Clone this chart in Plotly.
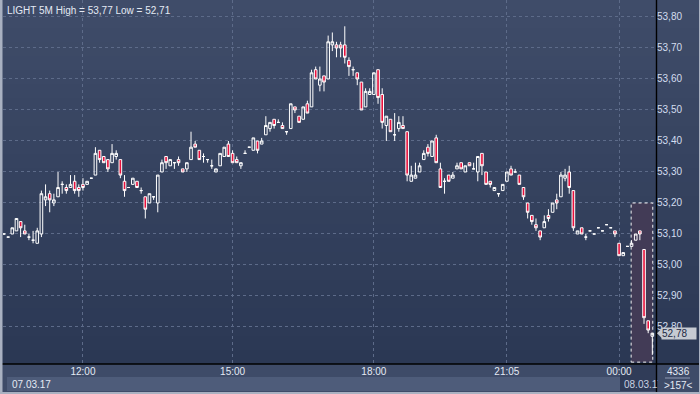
import plotly.graph_objects as go

# ---------------- data (5-minute bars) ----------------
open_ = [53.10, 53.09, 53.10, 53.11, 53.14, 53.11, 53.09, 53.08, 53.07, 53.10,
         53.21, 53.23, 53.20, 53.22, 53.26, 53.25, 53.25, 53.27, 53.25, 53.26,
         53.26, 53.28, 53.29, 53.37, 53.35, 53.34, 53.33, 53.35, 53.34, 53.27,
         53.25, 53.26, 53.27, 53.24, 53.22, 53.20, 53.22, 53.20, 53.30, 53.35,
         53.32, 53.33, 53.34, 53.31, 53.31, 53.34, 53.39, 53.37, 53.35, 53.34,
         53.32, 53.30, 53.32, 53.35, 53.39, 53.36, 53.34, 53.32, 53.36, 53.38,
         53.37, 53.40, 53.39, 53.42, 53.44, 53.47, 53.46, 53.45, 53.43, 53.44,
         53.51, 53.48, 53.47, 53.52, 53.51, 53.63, 53.58, 53.61, 53.60, 53.71,
         53.71, 53.71, 53.71, 53.66, 53.63, 53.62, 53.59, 53.51, 53.55, 53.55,
         53.63, 53.55, 53.45, 53.47, 53.42, 53.44, 53.45, 53.43, 53.27, 53.28,
         53.30, 53.34, 53.38, 53.35, 53.41, 53.31, 53.27, 53.29, 53.28, 53.31,
         53.33, 53.30, 53.33, 53.31, 53.30, 53.36, 53.30, 53.27, 53.24, 53.23,
         53.24, 53.27, 53.31, 53.30, 53.29, 53.25, 53.20, 53.16, 53.13, 53.11,
         53.12, 53.16, 53.17, 53.21, 53.22, 53.28, 53.30, 53.24, 53.10, 53.12,
         53.09, 53.11, 53.10, 53.12, 53.11, 53.13, 53.12, 53.11, 53.07, 53.03,
         53.06, 53.06, 53.08, 53.11, 53.05, 52.82, 52.77]

high = [53.10, 53.09, 53.12, 53.15, 53.14, 53.13, 53.10, 53.11, 53.12, 53.24,
        53.26, 53.24, 53.23, 53.30, 53.27, 53.26, 53.29, 53.29, 53.26, 53.28,
        53.27, 53.28, 53.38, 53.37, 53.35, 53.34, 53.39, 53.37, 53.34, 53.29,
        53.25, 53.28, 53.27, 53.25, 53.22, 53.23, 53.22, 53.29, 53.34, 53.35,
        53.34, 53.33, 53.35, 53.31, 53.33, 53.43, 53.40, 53.37, 53.36, 53.34,
        53.34, 53.31, 53.36, 53.38, 53.40, 53.37, 53.35, 53.33, 53.37, 53.38,
        53.41, 53.40, 53.41, 53.48, 53.46, 53.47, 53.47, 53.46, 53.43, 53.52,
        53.51, 53.48, 53.51, 53.53, 53.63, 53.64, 53.64, 53.61, 53.74, 53.75,
        53.72, 53.72, 53.77, 53.67, 53.64, 53.62, 53.59, 53.57, 53.57, 53.62,
        53.63, 53.57, 53.48, 53.47, 53.49, 53.48, 53.48, 53.43, 53.32, 53.33,
        53.33, 53.37, 53.39, 53.40, 53.42, 53.33, 53.28, 53.29, 53.30, 53.33,
        53.33, 53.32, 53.33, 53.33, 53.35, 53.36, 53.30, 53.27, 53.25, 53.23,
        53.26, 53.30, 53.32, 53.31, 53.29, 53.25, 53.20, 53.16, 53.15, 53.11,
        53.16, 53.18, 53.20, 53.23, 53.30, 53.31, 53.32, 53.24, 53.11, 53.12,
        53.10, 53.11, 53.10, 53.12, 53.11, 53.13, 53.12, 53.11, 53.07, 53.04,
        53.06, 53.08, 53.10, 53.11, 53.05, 52.82, 52.78]

low = [53.10, 53.09, 53.10, 53.11, 53.09, 53.10, 53.08, 53.07, 53.07, 53.09,
       53.19, 53.17, 53.19, 53.22, 53.23, 53.23, 53.25, 53.23, 53.22, 53.24,
       53.26, 53.28, 53.29, 53.33, 53.33, 53.30, 53.33, 53.34, 53.28, 53.22,
       53.25, 53.26, 53.25, 53.23, 53.15, 53.20, 53.21, 53.17, 53.30, 53.31,
       53.32, 53.31, 53.32, 53.30, 53.30, 53.34, 53.38, 53.34, 53.33, 53.33,
       53.31, 53.30, 53.32, 53.35, 53.35, 53.33, 53.33, 53.31, 53.36, 53.38,
       53.37, 53.36, 53.39, 53.42, 53.43, 53.44, 53.46, 53.44, 53.42, 53.44,
       53.49, 53.46, 53.47, 53.49, 53.51, 53.60, 53.56, 53.56, 53.60, 53.69,
       53.67, 53.67, 53.65, 53.61, 53.61, 53.58, 53.50, 53.51, 53.55, 53.55,
       53.52, 53.44, 53.40, 53.43, 53.40, 53.43, 53.44, 53.27, 53.27, 53.28,
       53.30, 53.34, 53.35, 53.35, 53.33, 53.25, 53.23, 53.27, 53.28, 53.31,
       53.31, 53.30, 53.32, 53.31, 53.27, 53.29, 53.26, 53.25, 53.24, 53.22,
       53.24, 53.27, 53.29, 53.30, 53.26, 53.21, 53.15, 53.13, 53.11, 53.08,
       53.12, 53.14, 53.17, 53.18, 53.22, 53.27, 53.23, 53.11, 53.10, 53.10,
       53.08, 53.11, 53.10, 53.12, 53.11, 53.13, 53.12, 53.09, 53.03, 53.03,
       53.06, 53.06, 53.08, 53.08, 52.81, 52.78, 52.71]

close = [53.10, 53.09, 53.12, 53.15, 53.12, 53.10, 53.09, 53.08, 53.11, 53.23,
         53.22, 53.21, 53.21, 53.25, 53.26, 53.24, 53.26, 53.24, 53.24, 53.25,
         53.27, 53.28, 53.36, 53.34, 53.33, 53.31, 53.36, 53.36, 53.29, 53.24,
         53.25, 53.28, 53.25, 53.24, 53.18, 53.23, 53.22, 53.29, 53.33, 53.33,
         53.34, 53.33, 53.33, 53.30, 53.33, 53.38, 53.38, 53.34, 53.35, 53.34,
         53.32, 53.31, 53.36, 53.38, 53.35, 53.33, 53.33, 53.33, 53.36, 53.38,
         53.41, 53.37, 53.40, 53.45, 53.46, 53.45, 53.46, 53.44, 53.43, 53.52,
         53.50, 53.46, 53.51, 53.49, 53.62, 53.60, 53.60, 53.59, 53.72, 53.72,
         53.70, 53.70, 53.67, 53.64, 53.63, 53.60, 53.50, 53.56, 53.56, 53.62,
         53.54, 53.46, 53.48, 53.43, 53.42, 53.46, 53.44, 53.29, 53.29, 53.29,
         53.32, 53.36, 53.36, 53.40, 53.33, 53.25, 53.27, 53.27, 53.29, 53.32,
         53.31, 53.32, 53.32, 53.31, 53.35, 53.32, 53.26, 53.26, 53.25, 53.23,
         53.26, 53.30, 53.29, 53.30, 53.26, 53.22, 53.17, 53.14, 53.12, 53.09,
         53.14, 53.15, 53.20, 53.20, 53.29, 53.29, 53.25, 53.12, 53.11, 53.10,
         53.09, 53.11, 53.10, 53.12, 53.11, 53.13, 53.12, 53.10, 53.03, 53.04,
         53.06, 53.07, 53.10, 53.10, 52.83, 52.79, 52.78]

bar_index = list(range(len(open_)))
time_tick_index = [19, 55, 89, 121, 148]
time_tick_labels = ["12:00", "15:00", "18:00", "21:05", "00:00"]
price_ticks = [52.80, 52.90, 53.00, 53.10, 53.20, 53.30, 53.40, 53.50, 53.60, 53.70, 53.80]
symbol = "LIGHT"
timeframe = "5M"
date_start = "07.03.17"
date_end = "08.03.17"
volume_text = "4336"
selection_first, selection_last = 151, 156
selection_top = 53.20

# ---------------- geometry / style ----------------
W, H = 700, 394
ML, MR, MT, MB = 3, 44, 0, 30
PW, PH = W - ML - MR, H - MT - MB
x_range = [-0.24, 156.88]
y_range = [52.6806, 53.8548]


def px(x):
    return (x - ML) / PW


def py(y):
    return (H - MB - y) / PH


def fmt(v):
    return f"{v:.2f}".replace(".", ",")


FONT = "Liberation Sans, Arial, sans-serif"
TXT = "#e4eaf4"
shapes = []

# background gradient bands (plot + right panel)
top_c = (63, 76, 105)
bot_c = (43, 56, 84)
n_bands = 26
for i in range(n_bands):
    t = i / (n_bands - 1)
    c = tuple(round(top_c[k] + (bot_c[k] - top_c[k]) * t) for k in range(3))
    y0 = PH * i / n_bands
    y1 = PH * (i + 1) / n_bands
    shapes.append(dict(type="rect", xref="paper", yref="paper", layer="below",
                       x0=px(0), x1=px(W), y0=py(y0), y1=py(y1 + 0.5),
                       line=dict(width=0), fillcolor="rgb(%d,%d,%d)" % c))

# bottom axis area
shapes += [
    dict(type="rect", xref="paper", yref="paper", layer="below", x0=px(0), x1=px(W),
         y0=py(H), y1=py(H - MB), line=dict(width=0), fillcolor="#3e4b68"),
    dict(type="rect", xref="paper", yref="paper", layer="below", x0=px(7), x1=px(620),
         y0=py(391), y1=py(377), line=dict(width=0), fillcolor="#4e5c7a"),
    dict(type="rect", xref="paper", yref="paper", layer="below", x0=px(620), x1=px(656),
         y0=py(391), y1=py(365), line=dict(width=0), fillcolor="#303c58"),
    dict(type="line", xref="paper", yref="paper", layer="above", x0=px(665), x1=px(690),
         y0=py(378), y1=py(378), line=dict(width=1, color="#8d99b3")),
]

# selection highlight
shapes.append(dict(type="rect", xref="x", yref="y", layer="between",
                   x0=selection_first - 0.1, x1=selection_last + 0.1,
                   y0=y_range[0] + 0.006, y1=selection_top,
                   line=dict(width=1, color="#f0f0f0", dash="dot"),
                   fillcolor="#423b56"))

# frame lines
shapes += [
    dict(type="line", xref="paper", yref="paper", layer="above", x0=px(0), x1=px(W),
         y0=py(364), y1=py(364), line=dict(width=1.4, color="#000000")),
    dict(type="line", xref="paper", yref="paper", layer="above", x0=px(656.5), x1=px(656.5),
         y0=py(0), y1=py(H), line=dict(width=1.4, color="#000000")),
    dict(type="rect", xref="paper", yref="paper", layer="above", x0=px(0), x1=px(2.5),
         y0=py(H), y1=py(0), line=dict(width=0), fillcolor="#a9b1c1"),
    dict(type="rect", xref="paper", yref="paper", layer="above", x0=px(0), x1=px(W),
         y0=py(H), y1=py(392), line=dict(width=0), fillcolor="#a9b1c1"),
    dict(type="rect", xref="paper", yref="paper", layer="above", x0=px(699), x1=px(W),
         y0=py(H), y1=py(0), line=dict(width=0), fillcolor="#a9b1c1"),
]

# last-price marker arrow
last = close[-1]
last_y_px = MT + (y_range[1] - last) / (y_range[1] - y_range[0]) * PH
shapes.append(dict(type="path", xref="paper", yref="paper", layer="above",
                   path="M %f,%f L %f,%f L %f,%f Z" % (
                       px(657), py(last_y_px), px(662), py(last_y_px - 5),
                       px(662), py(last_y_px + 5)),
                   line=dict(width=0), fillcolor="#c6cad2"))

fig = go.Figure()
fig.add_trace(go.Candlestick(
    x=bar_index, open=open_, high=high, low=low, close=close,
    increasing=dict(line=dict(color="#ffffff", width=1), fillcolor="rgba(0,0,0,0)"),
    decreasing=dict(line=dict(color="#ffffff", width=1), fillcolor="#e8103c"),
    whiskerwidth=0, showlegend=False, hoverinfo="skip",
))

annotations = [
    dict(text=f"{symbol} {timeframe} High = {fmt(max(high))} Low = {fmt(min(low))}",
         xref="paper", yref="paper", x=px(5), y=py(10), xanchor="left", yanchor="middle",
         showarrow=False, font=dict(family=FONT, size=10, color=TXT)),
    dict(text=date_start, xref="paper", yref="paper", x=px(10), y=py(384),
         xanchor="left", yanchor="middle", showarrow=False,
         font=dict(family=FONT, size=10, color=TXT)),
    dict(text=date_end, xref="paper", yref="paper", x=px(622), y=py(384),
         xanchor="left", yanchor="middle", showarrow=False, width=34, align="left",
         font=dict(family=FONT, size=10, color="#c9d2e2")),
    dict(text=volume_text, xref="paper", yref="paper", x=px(678), y=py(371),
         xanchor="center", yanchor="middle", showarrow=False,
         font=dict(family=FONT, size=10, color=TXT)),
    dict(text=f">{len(open_)}<", xref="paper", yref="paper", x=px(678), y=py(385),
         xanchor="center", yanchor="middle", showarrow=False,
         font=dict(family=FONT, size=10, color=TXT)),
    dict(text=fmt(last), xref="paper", yref="y", x=px(661), y=last,
         xanchor="left", yanchor="middle", showarrow=False, width=34, height=11,
         bgcolor="#c6cad2", borderpad=0, align="left",
         font=dict(family=FONT, size=10, color="#1d2842")),
]

fig.update_layout(
    width=W, height=H, margin=dict(l=ML, r=MR, t=MT, b=MB, pad=0),
    paper_bgcolor="#3e4b68", plot_bgcolor="rgba(0,0,0,0)",
    separators=",.", boxgap=0.3, boxgroupgap=0.1,
    shapes=shapes, annotations=annotations, showlegend=False,
    font=dict(family=FONT, size=10, color=TXT),
    xaxis=dict(range=x_range, rangeslider=dict(visible=False), tickmode="array",
               tickvals=time_tick_index, ticktext=time_tick_labels,
               showgrid=True, gridcolor="#5d6b89", griddash="3px,3px", gridwidth=1,
               zeroline=False, showline=False, ticks="",
               tickfont=dict(family=FONT, size=10, color=TXT)),
    yaxis=dict(range=y_range, side="right", tickmode="array", tickvals=price_ticks,
               tickformat=".2f", showgrid=True, gridcolor="#5d6b89", griddash="3px,3px",
               gridwidth=1, zeroline=False, showline=False, ticks="",
               tickfont=dict(family=FONT, size=10, color="#d3ddef")),
)

fig.write_html("out.html", config={"displayModeBar": False},
               post_script="document.body.style.margin='0';")
